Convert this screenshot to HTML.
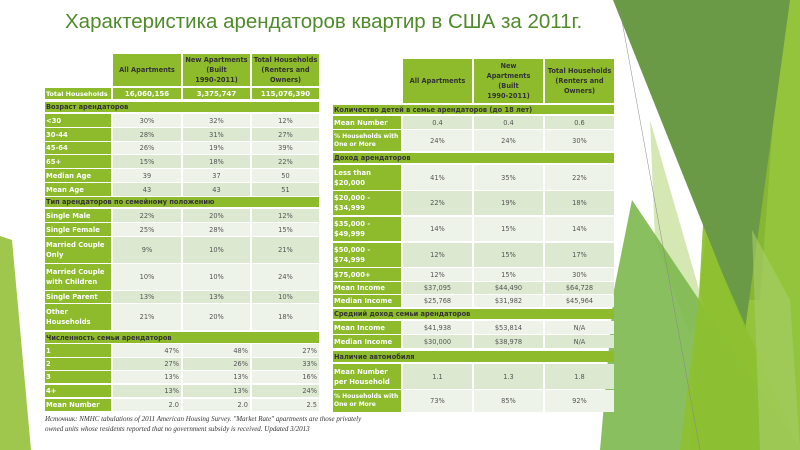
<!DOCTYPE html>
<html><head><meta charset="utf-8"><style>
body{margin:0;width:800px;height:450px;overflow:hidden;background:#fff;font-family:"DejaVu Sans","Liberation Sans",sans-serif;position:relative}
svg.bg{position:absolute;left:0;top:0}
h1{position:absolute;left:65px;top:10px;margin:0;font:20.5px "Liberation Sans","DejaVu Sans",sans-serif;color:#4f8a2b;white-space:nowrap}
.t{position:absolute}
.r{position:absolute;left:0}
.r div{position:absolute;top:0;height:100%;display:flex;align-items:center;justify-content:center;text-align:center;font-size:6.6px;line-height:10px;color:#555;box-sizing:border-box}
.r .a{justify-content:flex-start;text-align:left;background:#8dbb2b;color:#fff;font-weight:bold;padding-left:1px;font-size:6.8px}
.r .h{background:#8dbb2b;color:#333;font-weight:bold;padding:0;white-space:nowrap}
.r .s{justify-content:flex-start;background:#8dbb2b;color:#333;font-weight:bold;padding-left:1px}
.r .tot{background:#8dbb2b;color:#fff;font-weight:bold;font-size:7px}
.L .a{left:0;width:66px}.L .b{left:68px;width:68px}.L .c{left:138px;width:67px}.L .d{left:207px;width:67px}.L .s{left:0;width:274px}
.R .a{left:0;width:68px}.R .b{left:70px;width:69px}.R .c{left:141px;width:69px}.R .d{left:212px;width:69px}.R .s{left:0;width:281px}
.x div.b,.x div.c,.x div.d{background:#eef3e9}
.y div.b,.y div.c,.y div.d{background:#dce8d0}
.rt div.b,.rt div.c,.rt div.d{justify-content:flex-end;padding-right:2px}
.src{position:absolute;left:45px;top:414px;font:italic 7px/10px "Liberation Serif",serif;color:#333;white-space:nowrap}
</style></head><body>
<svg class="bg" width="800" height="450">
<polygon points="0,236 12,240 31,450 0,450" fill="#9fc74e"/>
<polygon points="716,0 800,0 800,450 690,450" fill="#94c43c"/>
<polygon points="718,0 782,0 760,300 730,300" fill="#86b632"/>
<polygon points="650,120 705,310 690,335 655,240" fill="#d5e7b3"/>
<polygon points="613,0 790,0 745,330" fill="#6a9a45"/>
<polygon points="632,200 800,450 600,450 614,290" fill="#7db84f" opacity="0.9"/>
<polygon points="706,236 800,450 680,450" fill="#8dc030" opacity="0.9"/>
<polygon points="752,230 790,300 800,450 760,450" fill="#a9cf6a" opacity="0.6"/>
<line x1="620" y1="10" x2="700" y2="450" stroke="#888" stroke-width="0.5"/>
</svg>
<h1>Характеристика арендаторов квартир в США за 2011г.</h1>

<div class="t L" style="left:45px;top:0">
<div class="r" style="top:54px;height:32px"><div class="b h">All Apartments</div><div class="c h">New Apartments<br>(Built<br>1990-2011)</div><div class="d h">Total Households<br>(Renters and<br>Owners)</div></div>
<div class="r" style="top:88px;height:11px"><div class="a" style="white-space:nowrap;font-size:6.4px">Total Households</div><div class="b tot">16,060,156</div><div class="c tot">3,375,747</div><div class="d tot">115,076,390</div></div>
<div class="r" style="top:102px;height:10px"><div class="s">Возраст арендаторов</div></div>
<div class="r x" style="top:114px;height:13px"><div class="a">&lt;30</div><div class="b">30%</div><div class="c">32%</div><div class="d">12%</div></div>
<div class="r y" style="top:128px;height:13px"><div class="a">30-44</div><div class="b">28%</div><div class="c">31%</div><div class="d">27%</div></div>
<div class="r x" style="top:142px;height:12px"><div class="a">45-64</div><div class="b">26%</div><div class="c">19%</div><div class="d">39%</div></div>
<div class="r y" style="top:155px;height:13px"><div class="a">65+</div><div class="b">15%</div><div class="c">18%</div><div class="d">22%</div></div>
<div class="r x" style="top:169px;height:13px"><div class="a">Median Age</div><div class="b">39</div><div class="c">37</div><div class="d">50</div></div>
<div class="r y" style="top:183px;height:13px"><div class="a">Mean Age</div><div class="b">43</div><div class="c">43</div><div class="d">51</div></div>
<div class="r" style="top:197px;height:10px"><div class="s">Тип арендаторов по семейному положению</div></div>
<div class="r y" style="top:209px;height:13px"><div class="a">Single Male</div><div class="b">22%</div><div class="c">20%</div><div class="d">12%</div></div>
<div class="r x" style="top:223px;height:13px"><div class="a">Single Female</div><div class="b">25%</div><div class="c">28%</div><div class="d">15%</div></div>
<div class="r y" style="top:237px;height:26px"><div class="a">Married Couple Only</div><div class="b">9%</div><div class="c">10%</div><div class="d">21%</div></div>
<div class="r x" style="top:264px;height:26px"><div class="a">Married Couple with Children</div><div class="b">10%</div><div class="c">10%</div><div class="d">24%</div></div>
<div class="r y" style="top:291px;height:12px"><div class="a">Single Parent</div><div class="b">13%</div><div class="c">13%</div><div class="d">10%</div></div>
<div class="r x" style="top:304px;height:26px"><div class="a">Other Households</div><div class="b">21%</div><div class="c">20%</div><div class="d">18%</div></div>
<div class="r" style="top:332px;height:11px"><div class="s">Численность семьи арендаторов</div></div>
<div class="r x rt" style="top:344px;height:13px"><div class="a">1</div><div class="b">47%</div><div class="c">48%</div><div class="d">27%</div></div>
<div class="r y rt" style="top:358px;height:12px"><div class="a">2</div><div class="b">27%</div><div class="c">26%</div><div class="d">33%</div></div>
<div class="r x rt" style="top:371px;height:12px"><div class="a">3</div><div class="b">13%</div><div class="c">13%</div><div class="d">16%</div></div>
<div class="r y rt" style="top:385px;height:12px"><div class="a">4+</div><div class="b">13%</div><div class="c">13%</div><div class="d">24%</div></div>
<div class="r x rt" style="top:399px;height:12px"><div class="a">Mean Number</div><div class="b">2.0</div><div class="c">2.0</div><div class="d">2.5</div></div>
</div>

<div class="t R" style="left:333px;top:0">
<div class="r" style="top:59px;height:44px"><div class="b h">All Apartments</div><div class="c h">New<br>Apartments<br>(Built<br>1990-2011)</div><div class="d h">Total Households<br>(Renters and<br>Owners)</div></div>
<div class="r" style="top:105px;height:9px"><div class="s">Количество детей в семье арендаторов (до 18 лет)</div></div>
<div class="r y" style="top:116px;height:13px"><div class="a">Mean Number</div><div class="b">0.4</div><div class="c">0.4</div><div class="d">0.6</div></div>
<div class="r x" style="top:130px;height:21px"><div class="a" style="font-size:6px;line-height:8px">% Households with One or More</div><div class="b">24%</div><div class="c">24%</div><div class="d">30%</div></div>
<div class="r" style="top:153px;height:10px"><div class="s">Доход арендаторов</div></div>
<div class="r x" style="top:165px;height:25px"><div class="a">Less than $20,000</div><div class="b">41%</div><div class="c">35%</div><div class="d">22%</div></div>
<div class="r y" style="top:191px;height:24px"><div class="a">$20,000 - $34,999</div><div class="b">22%</div><div class="c">19%</div><div class="d">18%</div></div>
<div class="r x" style="top:217px;height:24px"><div class="a">$35,000 - $49,999</div><div class="b">14%</div><div class="c">15%</div><div class="d">14%</div></div>
<div class="r y" style="top:243px;height:24px"><div class="a">$50,000 - $74,999</div><div class="b">12%</div><div class="c">15%</div><div class="d">17%</div></div>
<div class="r x" style="top:268px;height:13px"><div class="a">$75,000+</div><div class="b">12%</div><div class="c">15%</div><div class="d">30%</div></div>
<div class="r y" style="top:282px;height:12px"><div class="a">Mean Income</div><div class="b">$37,095</div><div class="c">$44,490</div><div class="d">$64,728</div></div>
<div class="r x" style="top:295px;height:12px"><div class="a">Median Income</div><div class="b">$25,768</div><div class="c">$31,982</div><div class="d">$45,964</div></div>
<div class="r" style="top:309px;height:10px"><div class="s">Средний доход семьи арендаторов</div></div>
<div class="r x" style="top:321px;height:13px"><div class="a">Mean Income</div><div class="b">$41,938</div><div class="c">$53,814</div><div class="d">N/A</div></div>
<div class="r y" style="top:335px;height:13px"><div class="a">Median Income</div><div class="b">$30,000</div><div class="c">$38,978</div><div class="d">N/A</div></div>
<div class="r" style="top:351px;height:11px"><div class="s">Наличие автомобиля</div></div>
<div class="r y" style="top:364px;height:25px"><div class="a">Mean Number per Household</div><div class="b">1.1</div><div class="c">1.3</div><div class="d">1.8</div></div>
<div class="r x" style="top:390px;height:22px"><div class="a" style="font-size:6px;line-height:8px">% Households with One or More</div><div class="b">73%</div><div class="c">85%</div><div class="d">92%</div></div>
</div>

<div class="src">Источник: NMHC tabulations of 2011 American Housing Survey. "Market Rate" apartments are those privately<br>owned units whose residents reported that no government subsidy is received. Updated 3/2013</div>
</body></html>
